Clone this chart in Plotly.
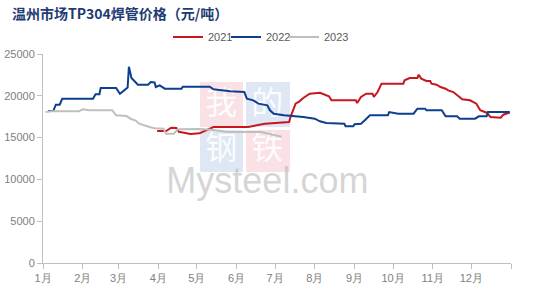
import plotly.graph_objects as go
from datetime import date, timedelta

# ---------------- data ----------------
months = ["1月", "2月", "3月", "4月", "5月", "6月", "7月", "8月", "9月", "10月", "11月", "12月", ""]
month_ticks = ["01-01", "02-01", "03-01", "04-01", "05-01", "06-01", "07-01", "08-01",
               "09-01", "10-01", "11-01", "12-01"]

d2021 = ["03-31", "04-07", "04-11", "04-15", "04-17", "04-26", "05-03", "05-09", "05-14", "06-10",
         "06-23", "07-12", "07-13", "07-17", "07-20", "07-23", "07-28", "08-05", "08-10", "08-12",
         "08-14", "09-02", "09-03", "09-06", "09-10", "09-15", "09-16", "09-19", "09-22", "10-09",
         "10-10", "10-14", "10-20", "10-21", "10-23", "10-27", "10-30", "10-31", "11-04", "11-07",
         "11-11", "11-13", "11-17", "11-20", "11-22", "11-24", "11-30", "12-03", "12-05", "12-08",
         "12-11", "12-13", "12-16", "12-24", "12-26", "12-31"]
v2021 = [15790, 15790, 16190, 16150, 15700, 15430, 15510, 15910, 16270, 16270,
         16660, 16870, 17460, 19060, 19340, 19740, 20250, 20370, 20050, 19940,
         19460, 19460, 19140, 19860, 20250, 20250, 19860, 20450, 21450, 21450,
         21850, 22130, 22130, 22520, 22050, 21770, 21770, 21450, 21330, 21050,
         20850, 20650, 20450, 20050, 19860, 19580, 19460, 19180, 19060, 18270,
         18060, 17980, 17460, 17380, 17740, 18000]

d2022 = ["01-05", "01-09", "01-11", "01-14", "01-16", "02-09", "02-11", "02-14", "02-15", "02-27",
         "03-02", "03-07", "03-08", "03-09", "03-11", "03-14", "03-16", "03-24", "03-26", "03-29",
         "03-30", "04-02", "04-06", "04-19", "04-20", "05-11", "05-14", "05-27", "06-07", "06-09",
         "06-14", "06-18", "06-25", "06-27", "06-30", "07-08", "07-16", "07-23", "08-01", "08-05",
         "08-10", "08-24", "08-25", "08-31", "09-01", "09-06", "09-09", "09-13", "09-27", "09-28",
         "10-05", "10-17", "10-20", "10-26", "10-27", "11-08", "11-11", "11-20", "11-22", "12-04",
         "12-07", "12-13", "12-14", "12-31"]
v2022 = [18180, 18180, 18940, 18940, 19650, 19650, 20180, 20180, 20930, 20930,
         20250, 20930, 21000, 23480, 22130, 21650, 21330, 21330, 21650, 21600,
         21050, 21250, 20850, 20850, 21090, 21090, 20780, 20540, 20450, 19650,
         19460, 19060, 18860, 18270, 17860, 17670, 17580, 17460, 17260, 16950,
         16750, 16660, 16350, 16350, 16590, 16660, 17070, 17670, 17670, 18060,
         17860, 17860, 18460, 18460, 18270, 18270, 17550, 17550, 17260, 17260,
         17550, 17550, 18060, 18060]

d2023 = ["01-03", "01-08", "01-29", "02-01", "02-06", "02-24", "02-27", "03-07", "03-11", "03-14",
         "03-17", "03-21", "03-25", "03-29", "04-05", "04-07", "04-13", "04-16", "05-04", "05-14",
         "05-25", "06-20", "06-30", "07-06"]
v2023 = [18060, 18150, 18150, 18390, 18270, 18270, 17670, 17580, 17200, 17070,
         16660, 16510, 16270, 16110, 16050, 15450, 15450, 16000, 16030, 15900,
         15670, 15670, 15350, 15110]

y_ticks = [0, 5000, 10000, 15000, 20000, 25000]

BASE = "2021-"

fig = go.Figure()

# ---------------- watermark (below lines) ----------------
PL, PW, PT, PH = 43, 468, 54, 209
def fx(px):
    return (px - PL) / PW
def fy(py):
    return (PT + PH - py) / PH
def px_to_date(f):
    return (date(2021, 1, 1) + timedelta(days=f * 365)).isoformat()
def py_to_val(f):
    return f * 25000

boxes = [(200, 82, 243, 127, "rgba(240,170,180,0.35)"),
         (246, 82, 290, 127, "rgba(160,185,220,0.35)"),
         (200, 130, 243, 172, "rgba(160,185,220,0.35)"),
         (246, 130, 290, 172, "rgba(240,170,180,0.35)")]
shapes = []
for x0, y0, x1, y1, c in boxes:
    shapes.append(dict(type="rect", xref="paper", yref="paper", x0=fx(x0), x1=fx(x1),
                       y0=fy(y1), y1=fy(y0), fillcolor=c, line=dict(width=0), layer="below"))

chars = ["我", "的", "钢", "铁"]
cx = [221.5, 268, 221.5, 268]
cy = [106, 106, 151, 151]
fig.add_trace(go.Scatter(x=[px_to_date(fx(v)) for v in cx], y=[py_to_val(fy(v)) for v in cy],
                         mode="text", text=chars, showlegend=False, hoverinfo="skip",
                         textposition="middle center",
                         textfont=dict(size=32, color="rgba(255,255,255,0.9)",
                                       family="Noto Sans CJK SC")))
fig.add_trace(go.Scatter(x=[px_to_date(fx(268))], y=[py_to_val(fy(184))],
                         mode="text", text=["Mysteel.com"], showlegend=False, hoverinfo="skip",
                         textposition="middle center",
                         textfont=dict(size=36, color="rgba(185,185,185,0.6)",
                                       family="Liberation Sans")))

# ---------------- series ----------------
fig.add_trace(go.Scatter(x=[BASE + m for m in d2021], y=v2021, name="2021", mode="lines",
                         line=dict(color="#C8161E", width=2), legend="legend"))
fig.add_trace(go.Scatter(x=[BASE + m for m in d2022], y=v2022, name="2022", mode="lines",
                         line=dict(color="#0D3F8E", width=2), legend="legend2"))
fig.add_trace(go.Scatter(x=[BASE + m for m in d2023], y=v2023, name="2023", mode="lines",
                         line=dict(color="#BFBFBF", width=2), legend="legend3"))

tickvals = [BASE + m for m in month_ticks] + ["2022-01-01"]

def leg(px):
    return dict(orientation="h", x=fx(px), y=1.081, xanchor="left", yanchor="middle",
                font=dict(size=11, color="#595959", family="Liberation Sans"),
                bgcolor="rgba(0,0,0,0)", itemwidth=30)

fig.update_layout(
    width=541, height=292,
    margin=dict(l=43, r=30, t=54, b=29),
    paper_bgcolor="white", plot_bgcolor="white",
    shapes=shapes,
    title=dict(text="<b>温州市场TP304焊管价格（元/吨）</b>", x=12 / 541, xref="container",
               xanchor="left", y=1 - 14 / 292, yanchor="middle",
               font=dict(family="Noto Sans CJK SC", size=14, color="#1F3B73")),
    legend=leg(168),
    legend2=leg(226),
    legend3=leg(284),
    xaxis=dict(type="date", range=["2021-01-01", "2022-01-01"], tickvals=tickvals,
               ticktext=months, showgrid=False, zeroline=False, showline=True, automargin=False,
               linecolor="#BFBFBF", linewidth=1, ticks="outside", ticklen=5,
               tickcolor="#BFBFBF", tickfont=dict(size=11, color="#808080", family="Liberation Sans")),
    yaxis=dict(range=[0, 25000], tickvals=y_ticks, ticktext=[str(v) for v in y_ticks],
               showgrid=False, zeroline=False, automargin=False,
               showline=True, linecolor="#BFBFBF", linewidth=1, ticks="outside", ticklen=5,
               tickcolor="#BFBFBF", tickfont=dict(size=11, color="#808080", family="Liberation Sans")),
    showlegend=True,
)

fig.write_html("out.html")
